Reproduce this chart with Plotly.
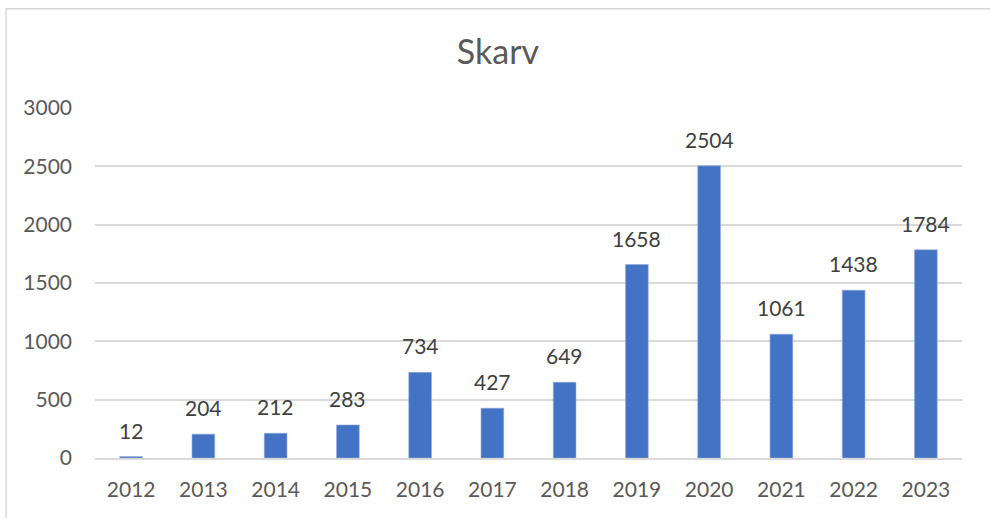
import plotly.graph_objects as go

years = ["2012", "2013", "2014", "2015", "2016", "2017", "2018", "2019", "2020", "2021", "2022", "2023"]
values = [12, 204, 212, 283, 734, 427, 649, 1658, 2504, 1061, 1438, 1784]
y_ticks = [0, 500, 1000, 1500, 2000, 2500, 3000]

W, H = 990, 518
L, R, T, B = 95, 28, 107.5, 59.5
pw, ph = W - L - R, H - T - B

font_family = "Lato, Carlito, 'Open Sans', sans-serif"

fig = go.Figure()
fig.add_trace(go.Bar(
    x=years, y=values,
    marker=dict(color="#4472C4", line=dict(color="#8FAADC", width=0.6)),
    textposition="none",
    hoverinfo="x+y",
))

# data labels (category index positions)
for i, v in enumerate(values):
    fig.add_annotation(x=i, y=v, text=str(v), showarrow=False,
                       yanchor="bottom", yshift=12,
                       font=dict(family=font_family, size=21, color="#404040"))

# outer chart border
fig.add_shape(type="rect", xref="paper", yref="paper",
              x0=(6 - L) / pw, x1=(1000 - L) / pw,
              y0=(H - B - 530) / ph, y1=(H - B - 8) / ph,
              line=dict(color="#D9D9D9", width=1.5), fillcolor="rgba(0,0,0,0)", layer="below")

fig.update_layout(
    width=W, height=H,
    margin=dict(l=L, r=R, t=T, b=B, pad=0),
    paper_bgcolor="white", plot_bgcolor="white",
    showlegend=False,
    bargap=0.686,
    title=dict(text="Skarv", x=0.503, xanchor="center", y=(H - 52) / H, yanchor="middle",
               font=dict(family=font_family, size=34, color="#595959")),
    font=dict(family=font_family, size=21, color="#595959"),
    xaxis=dict(type="category", range=[-0.5, len(years) - 0.5], autorange=False,
               showgrid=False, showline=True, linecolor="#D9D9D9", linewidth=1.5,
               ticks="", ticklabelstandoff=12, tickfont=dict(size=21, color="#595959")),
    yaxis=dict(range=[0, 3000], tickvals=y_ticks, showgrid=True, gridcolor="#D9D9D9", gridwidth=1.5,
               zeroline=False, showline=False, ticks="", ticklabelstandoff=22,
               tickfont=dict(size=21, color="#595959")),
)

fig.write_html("out.html", config={"displayModeBar": False},
               post_script="document.body.style.margin='0';document.body.style.overflow='hidden';")
